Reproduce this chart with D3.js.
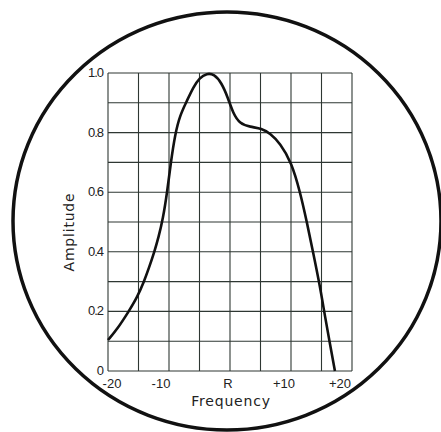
<!DOCTYPE html>
<html>
<head>
<meta charset="utf-8">
<script src="https://cdn.jsdelivr.net/npm/d3@7"></script>
<style>
  html, body { margin: 0; padding: 0; background: #fff; }
  svg { display: block; }
</style>
</head>
<body>
<svg id="chart" width="441" height="432"></svg>
<script>
// ---- data ----
const frequency = [-20, -18.4, -16.6, -15.2, -14.1, -13.3, -12.4, -11.7, -11.0, -10.3, -9.7, -9.0, -8.2, -7.1, -6.0, -5.0, -3.8, -2.6, -1.4, -0.3, 0.5, 1.6, 3.3, 5.2, 6.6, 8.2, 10.1, 11.5, 12.6, 13.6, 14.7, 15.6, 16.4, 17.2];
const amplitude = [0.104, 0.143, 0.20, 0.248, 0.30, 0.345, 0.40, 0.45, 0.51, 0.60, 0.70, 0.795, 0.858, 0.905, 0.953, 0.984, 0.999, 0.996, 0.968, 0.915, 0.865, 0.83, 0.819, 0.814, 0.797, 0.765, 0.70, 0.60, 0.50, 0.40, 0.29, 0.18, 0.09, 0.0];
const xTickValues = [-20, -10, 0, 10, 20];
const xTickLabels = ["-20", "-10", "R", "+10", "+20"];
const yTickValues = [0, 0.2, 0.4, 0.6, 0.8, 1.0];
const yTickLabels = ["0", "0.2", "0.4", "0.6", "0.8", "1.0"];
const xTitle = "Frequency";
const yTitle = "Amplitude";

// ---- style ----
const xLabelNudge = [4, -8, -2, -7, -12];
const gridColor = "#2e3733";

const svg = d3.select("#chart");
const x = d3.scaleLinear().domain([-20, 20]).range([108, 352]);
const y = d3.scaleLinear().domain([0, 1]).range([371, 73]);

// enclosing circle
svg.append("ellipse")
  .attr("cx", 227).attr("cy", 221).attr("rx", 214).attr("ry", 209)
  .attr("fill", "none").attr("stroke", "#111").attr("stroke-width", 3.5);

// grid
const g = svg.append("g");
g.selectAll("line.v").data(d3.range(-20, 20.01, 5)).join("line")
  .attr("x1", d => x(d)).attr("x2", d => x(d))
  .attr("y1", y(0)).attr("y2", y(1))
  .attr("stroke", gridColor).attr("stroke-width", 1.1);
g.selectAll("line.h").data(d3.range(0, 1.001, 0.1)).join("line")
  .attr("x1", x(-20)).attr("x2", x(20))
  .attr("y1", d => y(d)).attr("y2", d => y(d))
  .attr("stroke", gridColor).attr("stroke-width", 1.1);

// curve
const pts = frequency.map((f, i) => [f, amplitude[i]]);
svg.append("path")
  .datum(pts)
  .attr("d", d3.line().x(d => x(d[0])).y(d => y(d[1])).curve(d3.curveBasis))
  .attr("fill", "none").attr("stroke", "#111").attr("stroke-width", 2.6)
  .attr("stroke-linejoin", "round");

// y tick labels
svg.selectAll("text.yl").data(yTickValues).join("text")
  .attr("x", 103).attr("y", d => y(d) + 4)
  .attr("text-anchor", "end")
  .attr("font-family", "Liberation Sans, Arial, sans-serif")
  .attr("font-size", 13).attr("letter-spacing", -1)
  .attr("fill", "#222")
  .text((d, i) => yTickLabels[i]);

// x tick labels
svg.selectAll("text.xl").data(xTickValues).join("text")
  .attr("x", (d, i) => x(d) + xLabelNudge[i]).attr("y", 388)
  .attr("text-anchor", "middle")
  .attr("font-family", "Liberation Sans, Arial, sans-serif")
  .attr("font-size", 13)
  .attr("fill", "#222")
  .text((d, i) => xTickLabels[i]);

// titles
svg.append("text")
  .attr("x", 231).attr("y", 406)
  .attr("text-anchor", "middle")
  .attr("font-family", "DejaVu Sans, sans-serif")
  .attr("font-size", 14).attr("letter-spacing", 0.8)
  .attr("fill", "#222")
  .text(xTitle);

svg.append("text")
  .attr("transform", "translate(74,232) rotate(-90)")
  .attr("text-anchor", "middle")
  .attr("font-family", "DejaVu Sans, sans-serif")
  .attr("font-size", 14).attr("letter-spacing", 0.8)
  .attr("fill", "#222")
  .text(yTitle);
</script>
</body>
</html>
